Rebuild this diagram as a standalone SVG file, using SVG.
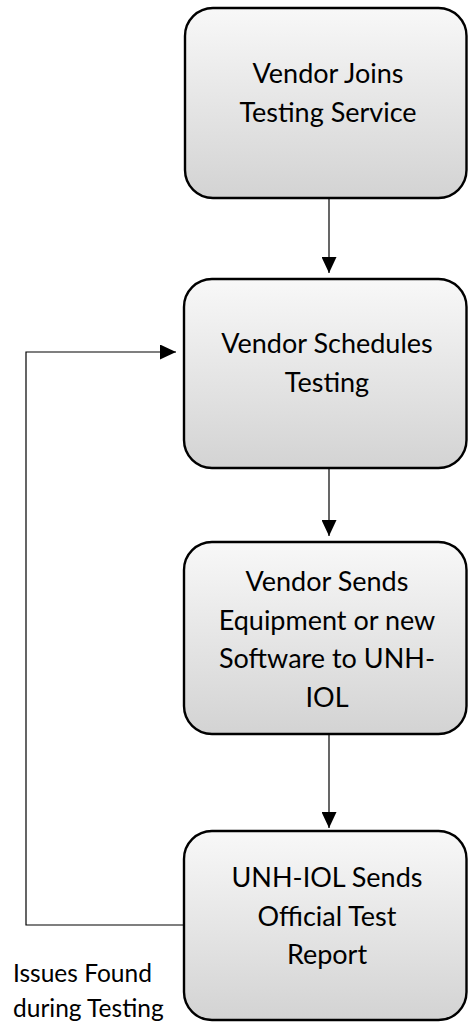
<svg xmlns="http://www.w3.org/2000/svg" width="468" height="1023" viewBox="0 0 468 1023">
<style>
.box{stroke:#000;stroke-width:2.4;fill:url(#g)}
.t{font-family:Lato,"Open Sans",sans-serif;font-size:27px;fill:#000;text-anchor:middle}
.lbl{font-family:Lato,"Open Sans",sans-serif;font-size:24.5px;fill:#000}
.c{stroke:#000;stroke-width:1.2;fill:none}
</style>
<defs>
<linearGradient id="g" x1="0" y1="0" x2="0" y2="1">
<stop offset="0" stop-color="#f8f8f8"/>
<stop offset="1" stop-color="#d3d3d3"/>
</linearGradient>
<marker id="ah" markerUnits="userSpaceOnUse" markerWidth="16" markerHeight="15" refX="16" refY="7.5" orient="auto">
<path d="M0,0 L16,7.5 L0,15 z" fill="#000"/>
</marker>
</defs>
<g id="connectors">
<line class="c" x1="329" y1="198" x2="329" y2="273" marker-end="url(#ah)"/>
<line class="c" x1="329" y1="468" x2="329" y2="536" marker-end="url(#ah)"/>
<line class="c" x1="329" y1="734" x2="329" y2="828" marker-end="url(#ah)"/>
<path class="c" d="M184,925 H26 V352 H176" marker-end="url(#ah)"/>
</g>
<g id="n1">
<rect class="box" x="185" y="8" width="281.5" height="190" rx="28" ry="28"/>
<text class="t" x="328" y="83">Vendor Joins</text>
<text class="t" x="328" y="122">Testing Service</text>
</g>
<g id="n2">
<rect class="box" x="184" y="279" width="282.5" height="189" rx="28" ry="28"/>
<text class="t" x="327" y="353">Vendor Schedules</text>
<text class="t" x="327" y="392">Testing</text>
</g>
<g id="n3">
<rect class="box" x="184" y="542" width="282.5" height="192" rx="28" ry="28"/>
<text class="t" x="327" y="591">Vendor Sends</text>
<text class="t" x="327" y="630">Equipment or new</text>
<text class="t" x="327" y="668">Software to UNH-</text>
<text class="t" x="327" y="707">IOL</text>
</g>
<g id="n4">
<rect class="box" x="184" y="831" width="282.5" height="189" rx="28" ry="28"/>
<text class="t" x="327" y="887">UNH-IOL Sends</text>
<text class="t" x="327" y="926">Official Test</text>
<text class="t" x="327" y="964">Report</text>
</g>
<g id="label">
<text class="lbl" x="13" y="982">Issues Found</text>
<text class="lbl" x="13" y="1017">during Testing</text>
</g>
</svg>
